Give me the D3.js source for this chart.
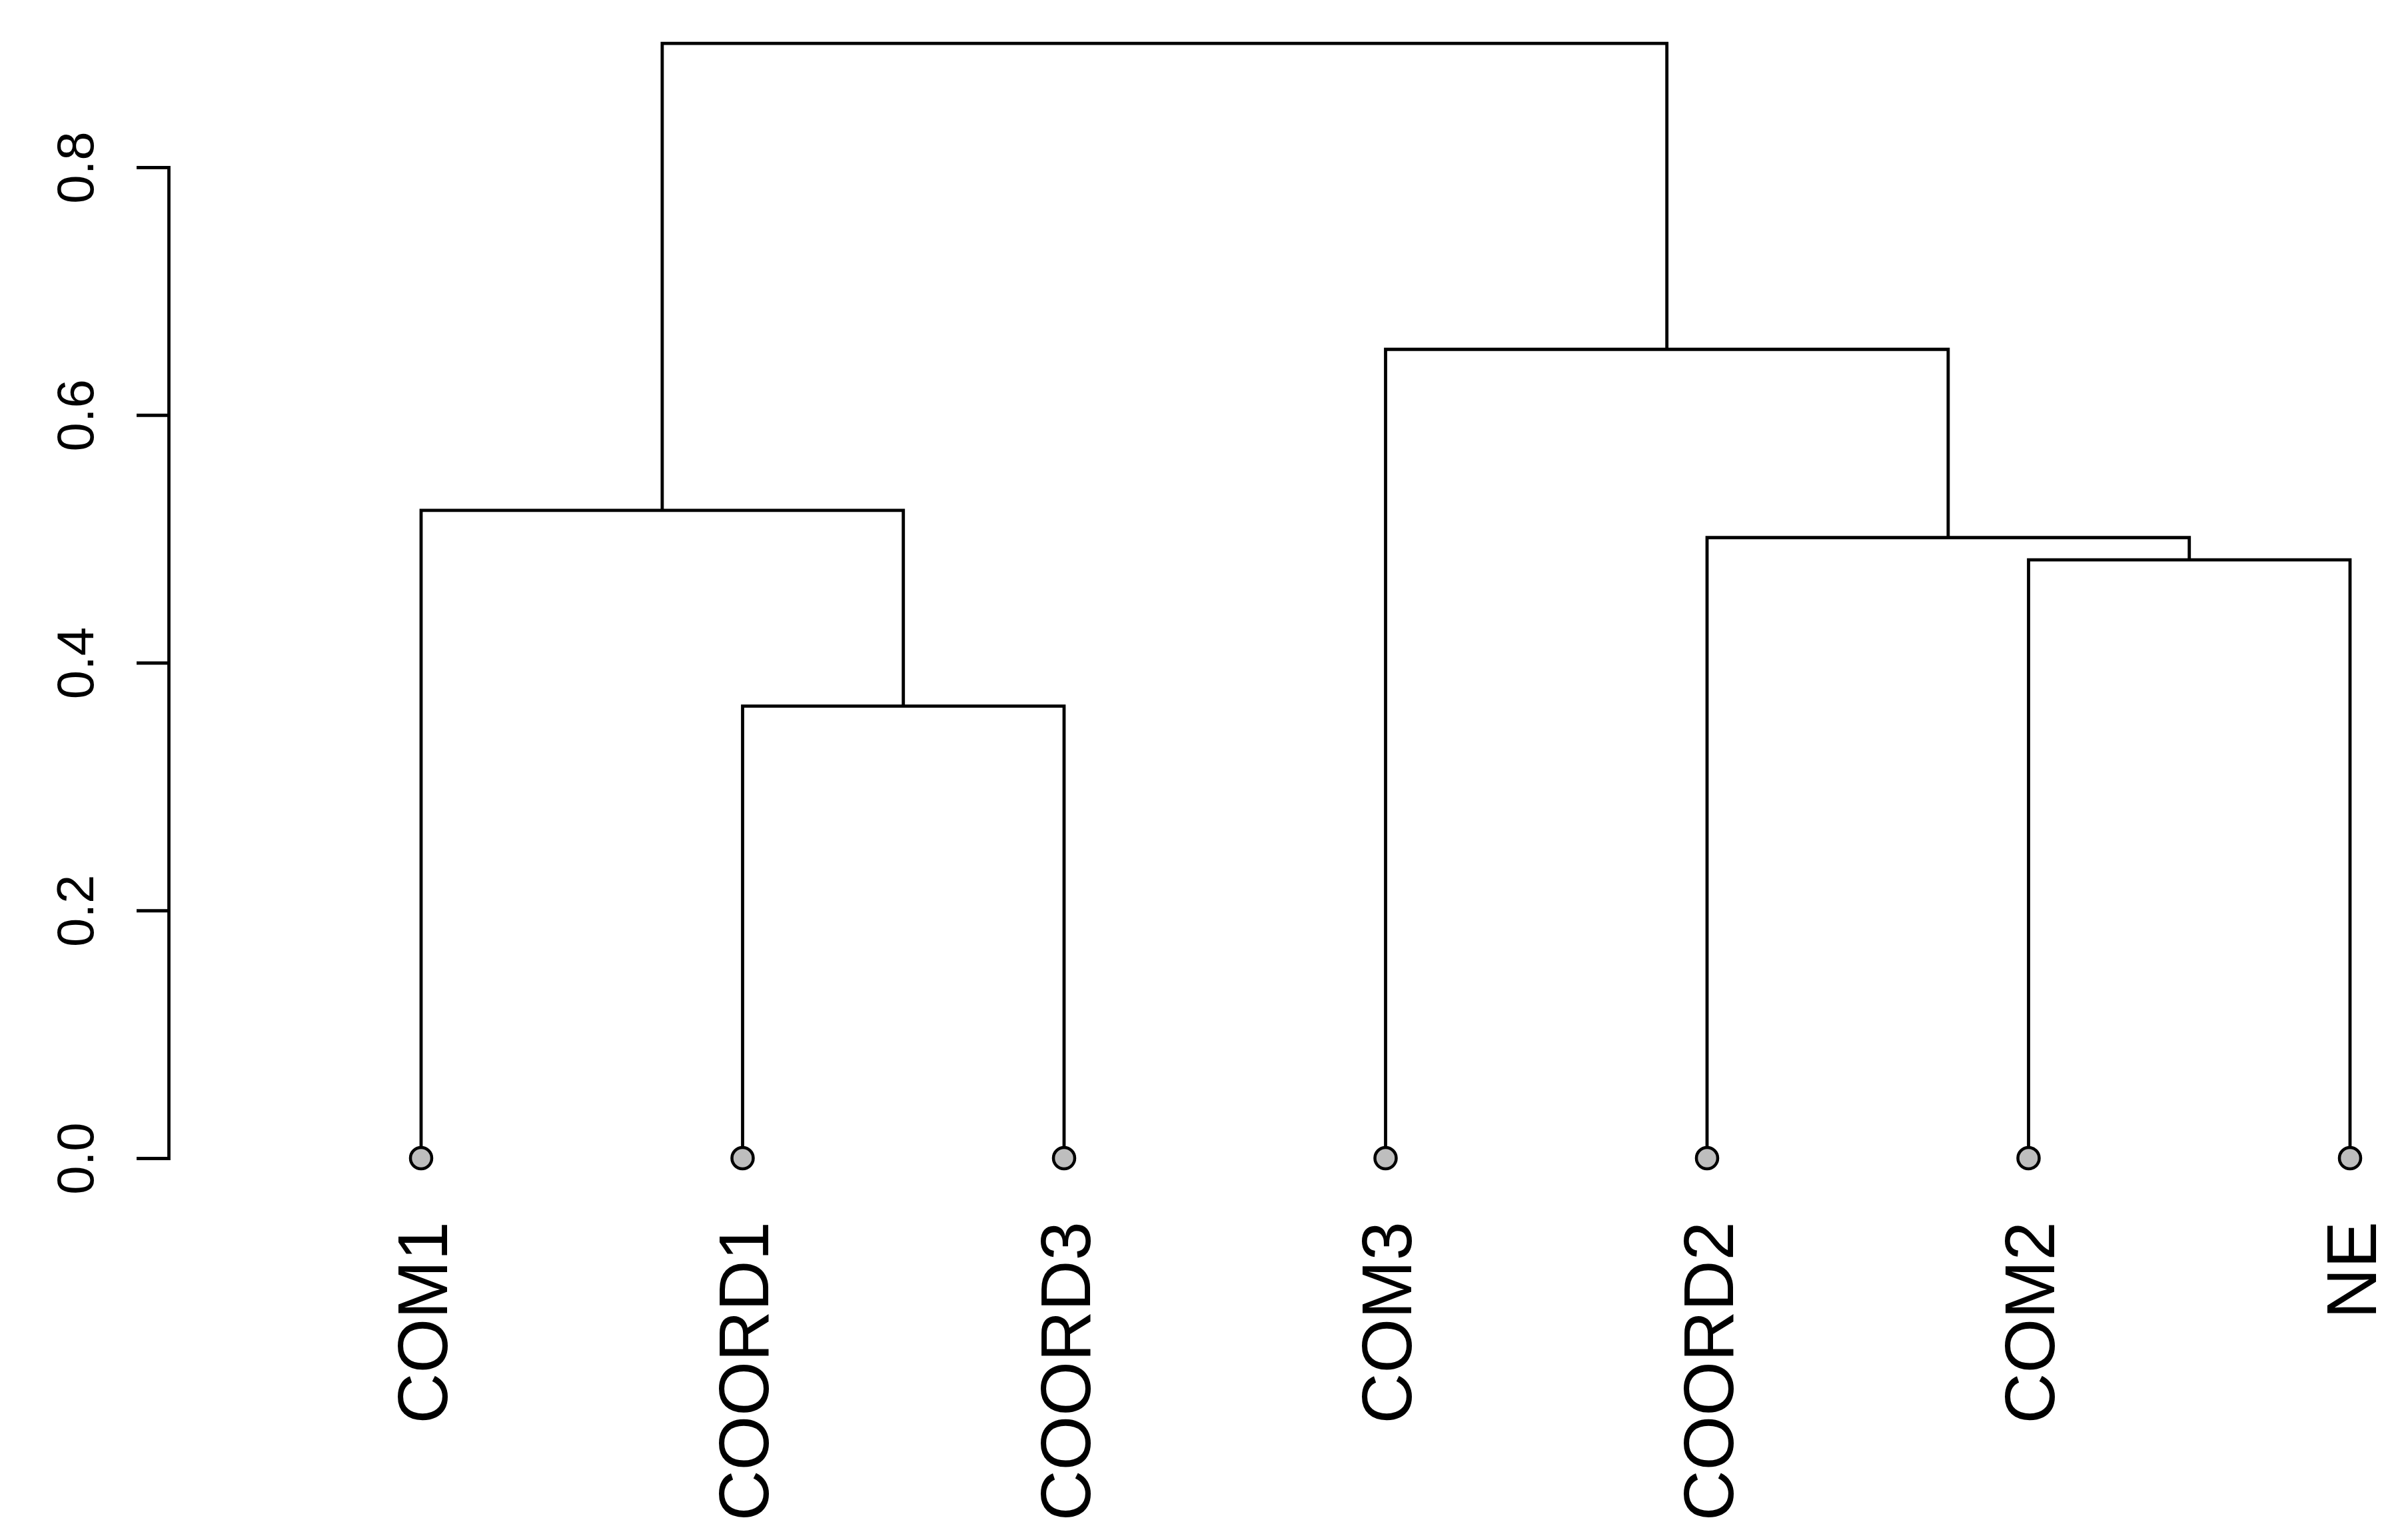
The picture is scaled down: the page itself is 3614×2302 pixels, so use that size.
<!DOCTYPE html>
<html>
<head>
<meta charset="utf-8">
<script src="https://cdn.jsdelivr.net/npm/d3@7"></script>
<style>
  html, body { margin: 0; padding: 0; background: #ffffff; }
  svg { display: block; }
</style>
</head>
<body>
<svg id="chart" width="3614" height="2302"></svg>
<script>
// ---- data (R hclust-style) ----
const leafLabels = ["COM1", "COORD1", "COORD3", "COM3", "COORD2", "COM2", "NE"];
// merge matrix: negative = leaf index (1-based), positive = earlier merge (1-based)
const mergeA = [-2, -6, -5, -1, -4, 4];
const mergeB = [-3, -7,  2,  1,  3, 5];
const mergeHeights = [0.365, 0.483, 0.501, 0.523, 0.653, 0.900];
const yTicks = [0.0, 0.2, 0.4, 0.6, 0.8];
</script>
<script>
const W = 3614, H = 2302;
const svg = d3.select("#chart");
svg.append("rect").attr("width", W).attr("height", H).attr("fill", "#ffffff");

const x = d3.scaleLinear().domain([1, leafLabels.length]).range([632, 3527]);
const y = d3.scaleLinear().domain([0, 0.8]).range([1738, 251]);

// build tree
function build(ref) {
  if (ref < 0) return { name: leafLabels[-ref - 1], h: 0 };
  const i = ref - 1;
  return { h: mergeHeights[i], children: [build(mergeA[i]), build(mergeB[i])] };
}
const root = d3.hierarchy(build(mergeA.length));
root.leaves().forEach((l, i) => { l.px = i + 1; });
root.eachAfter(n => {
  if (n.children) n.px = (n.children[0].px + n.children[1].px) / 2;
});

const lw = 4.8;
const g = svg.append("g");

// branches
root.descendants().filter(n => n.children).forEach(n => {
  const [a, b] = n.children;
  const p = d3.path();
  p.moveTo(x(a.px), y(a.data.h));
  p.lineTo(x(a.px), y(n.data.h));
  p.lineTo(x(b.px), y(n.data.h));
  p.lineTo(x(b.px), y(b.data.h));
  g.append("path")
    .attr("d", p.toString())
    .attr("fill", "none")
    .attr("stroke", "#000")
    .attr("stroke-width", lw)
    .attr("stroke-linejoin", "miter");
});

// leaf dots
g.selectAll("circle.leaf")
  .data(root.leaves())
  .join("circle")
  .attr("class", "leaf")
  .attr("cx", d => x(d.px))
  .attr("cy", d => y(0))
  .attr("r", 16)
  .attr("fill", "#bebebe")
  .attr("stroke", "#000")
  .attr("stroke-width", 4.5);

// leaf labels
g.selectAll("text.leaf")
  .data(root.leaves())
  .join("text")
  .attr("class", "leaf")
  .attr("transform", d => `translate(${x(d.px)},1833) rotate(-90)`)
  .attr("dy", "0.37em")
  .attr("text-anchor", "end")
  .attr("font-family", "'Liberation Sans', Arial, sans-serif")
  .attr("font-size", 105)
  .attr("fill", "#000")
  .text(d => d.data.name);

// y axis
const axis = d3.axisLeft(y)
  .tickValues(yTicks)
  .tickFormat(d3.format(".1f"))
  .tickSizeInner(48)
  .tickSizeOuter(0);
const ax = svg.append("g").attr("transform", "translate(253,0)").call(axis);
ax.select(".domain")
  .attr("stroke", "#000")
  .attr("stroke-width", lw)
  .attr("stroke-linecap", "square");
ax.selectAll(".tick line")
  .attr("stroke", "#000")
  .attr("stroke-width", lw);
ax.selectAll(".tick text")
  .attr("transform", "rotate(-90)")
  .attr("x", 0)
  .attr("y", -113)
  .attr("dy", 0)
  .attr("text-anchor", "middle")
  .attr("font-family", "'Liberation Sans', Arial, sans-serif")
  .attr("font-size", 78)
  .attr("fill", "#000");
</script>
</body>
</html>
